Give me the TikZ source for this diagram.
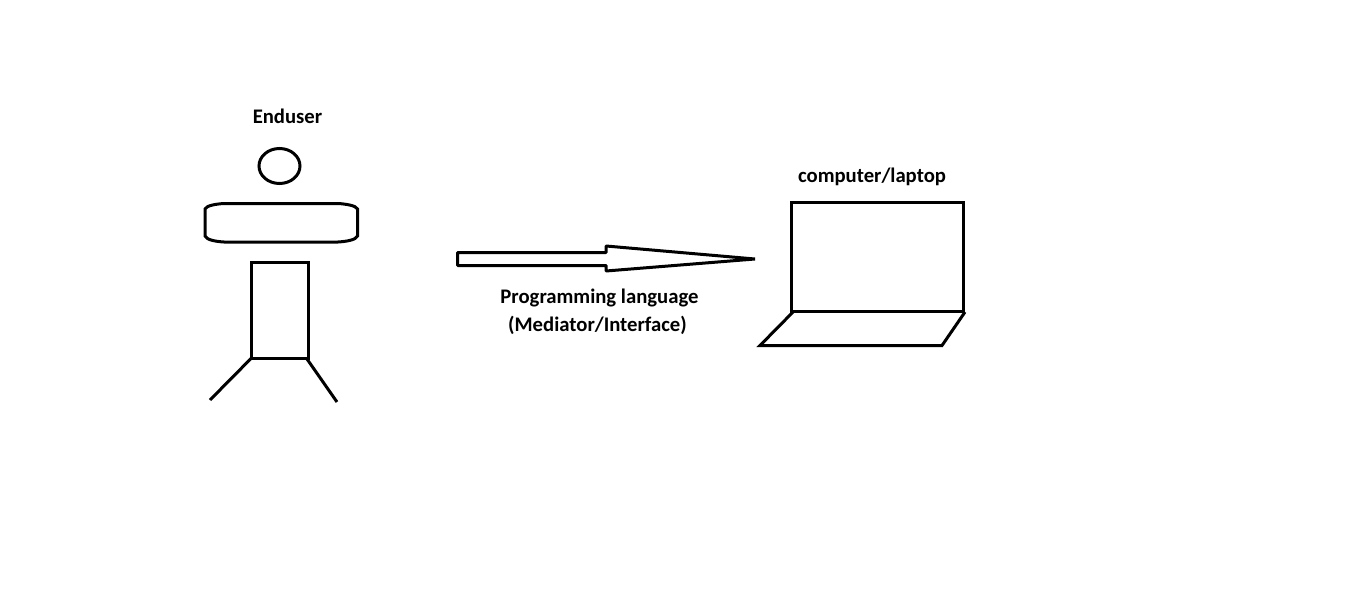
\documentclass[tikz,border=0pt]{standalone}
\usepackage{fontspec}
\setmainfont{Carlito}
\tikzset{
  ink/.style={draw=black,line width=3pt,line join=miter},
  label/.style={font=\fontsize{20.7}{24}\selectfont\bfseries,text=black,inner sep=0pt,align=center,anchor=center}
}
\begin{document}
\begin{tikzpicture}[x=1pt,y=-1pt]
\useasboundingbox[fill=white] (0,0) rectangle (1360,594);
% Enduser figure
\node[label] (enduser) at (287.5,116.5) {Enduser};
\draw[ink] (279.5,166) ellipse (20.5 and 17.5);
\draw[ink] (224,203.5) -- (338,203.5) .. controls (346,204) and (356,205.5) .. (357.5,209)
  -- (357.5,236) .. controls (356,240) and (346,241.5) .. (338,242)
  -- (224,242) .. controls (216,241.5) and (206.5,240) .. (205,236)
  -- (205,209) .. controls (206.5,205.5) and (216,204) .. (224,203.5) -- cycle;
\draw[ink] (251.5,262.5) rectangle (308.5,358);
\draw[ink] (251.5,358) -- (210,400);
\draw[ink] (307,359) -- (337,402);
% Arrow
\draw[ink,line join=bevel] (457.5,252.5) -- (606,252.5) -- (606,246) -- (755,259) -- (606,271) -- (606,265.5) -- (457.5,265.5) -- cycle;
\node[label] (lang) at (599.5,298) {Programming language};
\node[label] (med) at (597.5,325.5) {(Mediator/Interface)};
% Laptop
\node[label] (laptop) at (872,176.5) {computer/laptop};
\draw[ink] (791.5,202.5) rectangle (963.5,311.5);
\draw[ink] (793,312) -- (760,345.5) -- (942,345.5) -- (965,312);
\end{tikzpicture}
\end{document}
